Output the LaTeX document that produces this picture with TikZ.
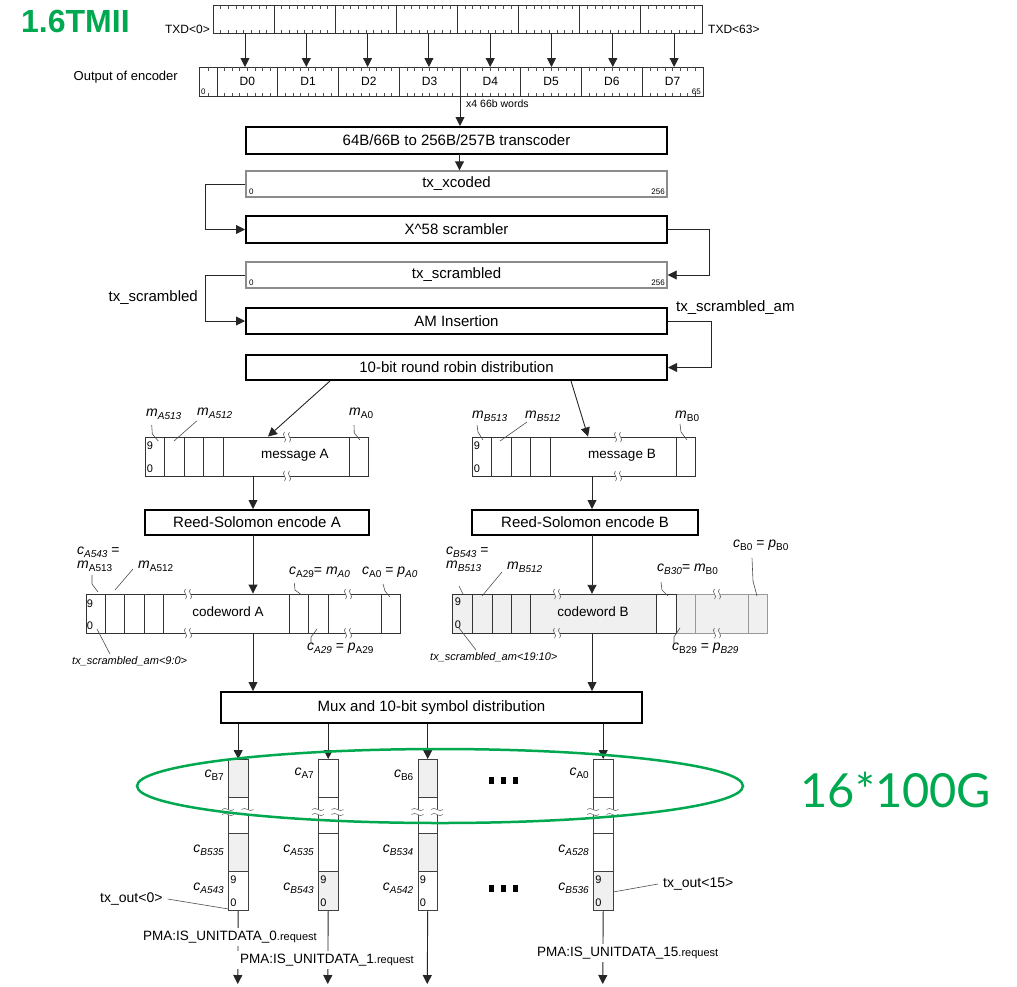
\documentclass[tikz,border=0pt]{standalone}
\usepackage{fontspec}
\setmainfont{Liberation Sans}
\newfontfamily\latofont{Lato}
\usetikzlibrary{arrows.meta,calc}
\definecolor{grn}{RGB}{0,168,80}
\colorlet{gfill}{black!6}
\newcommand{\symlab}[2]{\textit{#1}\raisebox{-0.45ex}{\fontsize{10}{10}\selectfont #2}}
\begin{document}
\begin{tikzpicture}[x=1pt,y=-1pt,
  xbox/.style={draw=black, line width=2pt, minimum width=421pt, inner sep=0pt, font=\fontsize{15}{15}\selectfont},
  xgr/.style={draw=black!45, line width=1.4pt, minimum width=421pt, minimum height=26pt, inner sep=0pt, font=\fontsize{15}{15}\selectfont},
  xbar/.style={draw=black!80, line width=1pt, inner sep=0pt},
  xdiv/.style={draw=black!80, line width=0.9pt},
  xlt/.style={draw=black!40, line width=0.9pt},
  xtk/.style={draw=black!70, line width=0.6pt},
  xconn/.style={draw=black!85, line width=0.9pt},
  xarr/.style={-{Triangle[length=9pt,width=9pt]}},
  xlead/.style={draw=black!70, line width=0.6pt},
  xlab/.style={inner sep=0pt, font=\fontsize{14}{12.5}\selectfont},
  xlab15/.style={inner sep=0pt, font=\fontsize{15}{15}\selectfont},
  xtxt/.style={inner sep=0pt, font=\fontsize{13.5}{14}\selectfont},
  xsm/.style={inner sep=0pt, font=\fontsize{12}{12}\selectfont},
  xsmb/.style={inner sep=0pt, font=\fontsize{13}{13}\selectfont},
  xnum/.style={inner sep=0pt, font=\fontsize{11}{11}\selectfont},
  xtiny/.style={inner sep=0pt, font=\fontsize{8}{8}\selectfont},
  xital/.style={inner sep=0pt, font=\itshape\fontsize{11}{11}\selectfont},
  xcell/.style={draw=black!75, line width=0.9pt, minimum width=19.5pt, inner sep=0pt, anchor=north west},
  xmsg/.style={draw=black!80, line width=0.9pt, inner sep=0pt},
  xpma/.style={fill=white, inner xsep=3pt, inner ysep=3pt, font=\fontsize{13.5}{13.5}\selectfont},
  hbrk/.pic={
    \fill[white] (-2.5,-1.3) rectangle (2.5,1.3);
    \draw[black!60, line width=0.6pt] (-2.5,-5) .. controls (-6.5,-2) and (1.5,2) .. (-2.5,5);
    \draw[black!60, line width=0.6pt] (2.5,-5) .. controls (-1.5,-2) and (6.5,2) .. (2.5,5);
  },
  vbrk/.pic={
    \fill[white] (-1.3,-2.5) rectangle (1.3,2.5);
    \draw[black!55, line width=0.6pt] (-6,-2.5) .. controls (-2,-6.5) and (2,1.5) .. (6,-2.5);
    \draw[black!55, line width=0.6pt] (-6,2.5) .. controls (-2,-1.5) and (2,6.5) .. (6,2.5);
  }]
\useasboundingbox (0,0) rectangle (1017,986);

% ---------- title
\node[anchor=west, inner sep=0pt, text=grn, font=\bfseries\fontsize{32}{32}\selectfont] (title) at (21,21) {1.6TMII};

% ---------- TXD bar
\node[xbar, minimum width=489pt, minimum height=28pt, anchor=north west] (txd) at (213,5) {};
\foreach \i in {1,...,7} \draw[xdiv] (213+61.125*\i,5) -- (213+61.125*\i,33);
\foreach \i in {0,...,7} \foreach \j in {1,...,7} {
  \draw[xtk] (213+61.125*\i+7.64*\j,5) -- ++(0,3.5);
  \draw[xtk] (213+61.125*\i+7.64*\j,33) -- ++(0,-3.5);
}
\node[xsm, anchor=east] (txd0) at (210,29) {TXD<0>};
\node[xsm, anchor=west] (txd63) at (708,29) {TXD<63>};

% ---------- encoder bar
\node[xbar, minimum width=504pt, minimum height=29pt, anchor=north west] (enc) at (199,67) {};
\foreach \i in {0,...,7} {
  \draw[xdiv] (217+60.75*\i,67) -- (217+60.75*\i,96);
  \foreach \j in {1,...,7} {
    \draw[xtk] (217+60.75*\i+7.59*\j,67) -- ++(0,3.5);
    \draw[xtk] (217+60.75*\i+7.59*\j,96) -- ++(0,-3.5);
  }
  \node[xsm] (d\i) at (217+60.75*\i+30.4,81.5) {D\i};
}
\draw[xtk] (208,67) -- ++(0,3.5);
\draw[xtk] (208,96) -- ++(0,-3.5);
\node[xtiny, anchor=south west] (e0) at (201,94.5) {0};
\node[xtiny, anchor=south east] (e65) at (701,94.5) {65};
\node[xsmb, anchor=east] (oenc) at (178,77) {Output of encoder};

\foreach \i in {0,...,7} {
  \coordinate (a\i) at (245+61.3*\i,33);
  \draw[xconn,xarr] (a\i) -- (a\i |- enc.north);
}

% ---------- processing chain
\node[xbox, minimum height=27pt] (tc) at (456.5,140.5) {64B/66B to 256B/257B transcoder};
\coordinate (e4) at (460,96);
\draw[xconn,xarr] (e4) -- (e4 |- tc.north);
\node[inner sep=0pt, font=\fontsize{10.5}{10.5}\selectfont, anchor=west] (x4) at (466,104) {x4 66b words};

\node[xgr] (xc) at (456.5,184) {tx\_xcoded};
\coordinate (tco) at (459.5,154);
\draw[xconn,xarr] (tco) -- (tco |- xc.north);
\node[xtiny, anchor=south west] (xc0) at (249,195) {0};
\node[xtiny, anchor=south east] (xc256) at (665,195) {256};

\node[xbox, minimum height=27pt] (scr) at (456.5,229.5) {X\textasciicircum58 scrambler};
\node[xgr] (ts) at (456.5,275) {tx\_scrambled};
\node[xtiny, anchor=south west] (ts0) at (249,286) {0};
\node[xtiny, anchor=south east] (ts256) at (665,286) {256};
\node[xbox, minimum height=26pt] (ami) at (456.5,321) {AM Insertion};
\node[xbox, minimum height=25pt] (rr) at (456.5,367.5) {10-bit round robin distribution};

\draw[xconn,xarr] (xc.west) -- ++(-40,0) |- (scr.west);
\draw[xconn,xarr] (scr.east) -- ++(41,0) |- (ts.east);
\draw[xconn,xarr] (ts.west) -- ++(-40,0) |- (ami.west);
\draw[xconn,xarr] (ami.east) -- ++(43,0) |- (rr.east);
\node[xlab15, anchor=east] (lts) at (198,298) {tx\_scrambled};
\node[xlab15, anchor=west] (ltsa) at (676,308) {tx\_scrambled\_am};

% ---------- message A
\node[xmsg, minimum width=223pt, minimum height=39pt] (ma) at (256.5,456.5) {};
\foreach \x in {164,184,203,223,349} \draw[xdiv] (\x,437) -- (\x,476);
\pic at (287,437) {hbrk};
\pic at (287,476) {hbrk};
\node[xtxt] (mat) at (295,455) {message A};
\node[xnum] (ma9) at (150,446) {9};
\node[xnum] (ma0) at (150,469) {0};
\node[xlab, anchor=west] (lma513) at (146,414) {\symlab{m}{\textit{A513}}};
\node[xlab, anchor=west] (lma512) at (197,413) {\symlab{m}{\textit{A512}}};
\node[xlab, anchor=west] (lma0) at (349,413) {\symlab{m}{A0}};
\draw[xlead] (151.7,425) -- (152.3,434) -- (158.3,441);
\draw[xlead] (196.7,421) -- (174,441);
\draw[xlead] (354,425) -- (354.3,433) -- (360,440);

% ---------- message B
\node[xmsg, minimum width=223pt, minimum height=39pt] (mb) at (583.5,456.5) {};
\foreach \x in {491,511,530,550,676} \draw[xdiv] (\x,437) -- (\x,476);
\pic at (618,437) {hbrk};
\pic at (618,476) {hbrk};
\node[xtxt] (mbt) at (622,455) {message B};
\node[xnum] (mb9) at (477,446) {9};
\node[xnum] (mb0) at (477,469) {0};
\node[xlab, anchor=west] (lmb513) at (472,416) {\symlab{m}{\textit{B513}}};
\node[xlab, anchor=west] (lmb512) at (525,416) {\symlab{m}{\textit{B512}}};
\node[xlab, anchor=west] (lmb0) at (675,416) {\symlab{m}{B0}};
\draw[xlead] (477,425) -- (478,432) -- (483,440);
\draw[xlead] (527,422) -- (500,441);
\draw[xlead] (680,424) -- (681,432) -- (687,440);

% round robin to messages
\draw[xconn,xarr] ([xshift=-126.5pt]rr.south) -- ([xshift=11.5pt]ma.north);
\draw[xconn,xarr] ([xshift=114.5pt]rr.south) -- ([xshift=4.5pt]mb.north);

% ---------- Reed-Solomon
\node[xbox, minimum width=224pt, minimum height=25pt] (rsa) at (257,522.5) {Reed-Solomon encode A};
\node[xbox, minimum width=226pt, minimum height=25pt] (rsb) at (585,522.5) {Reed-Solomon encode B};
\coordinate (mao) at (253,476);
\coordinate (mbo) at (592,476);
\draw[xconn,xarr] (mao) -- (mao |- rsa.north);
\draw[xconn,xarr] (mbo) -- (mbo |- rsb.north);

% ---------- codeword A
\node[xmsg, minimum width=314pt, minimum height=39pt] (cwa) at (243,613.5) {};
\foreach \x in {105,124,144,163,289,308,328,381} \draw[xdiv] (\x,594) -- (\x,633);
\pic at (188,594) {hbrk};
\pic at (188,633) {hbrk};
\pic at (348,594) {hbrk};
\pic at (348,633) {hbrk};
\node[xtxt] (cwat) at (228,612) {codeword A};
\node[xnum] (cwa9) at (90,604) {9};
\node[xnum] (cwa0) at (90,626) {0};
\node[xlab, anchor=west] (lca543) at (77,552) {\symlab{c}{\textit{A543}} =};
\node[xlab, anchor=west] (lma513b) at (77,566) {\symlab{m}{A513}};
\node[xlab, anchor=west] (lma512b) at (138,566) {\symlab{m}{A512}};
\node[xlab, anchor=west] (lca29) at (289,572) {\symlab{c}{A29}= \symlab{m}{\textit{A0}}};
\node[xlab, anchor=west] (lca0) at (362,572) {\symlab{c}{A0} = \symlab{p}{\textit{A0}}};
\node[xital, anchor=west] (ltsa9) at (72,661) {tx\_scrambled\_am<9:0>};
\node[xlab, anchor=west] (lca29p) at (307,648) {\symlab{c}{\textit{A29}} = \symlab{p}{A29}};
\draw[xlead] (92,575) -- (92,584) -- (98,592);
\draw[xlead] (133,569) -- (115,590);
\draw[xlead] (294.3,583) -- (295,590) -- (301.7,595);
\draw[xlead] (383,584) -- (385,591) -- (390,597);
\draw[xlead] (97,629) -- (110,654);
\draw[xlead] (311,644) -- (311,637) -- (317,629);

% ---------- codeword B
\node[fill=gfill, minimum width=315pt, minimum height=39pt, inner sep=0pt] (cwb) at (609.5,613.5) {};
\fill[white] (656,594) rectangle (676,633);
\draw[xlt] (676,594) -- (767,594) -- (767,633) -- (676,633);
\foreach \x in {695,748} \draw[xlt] (\x,594) -- (\x,633);
\draw[xdiv] (676,594) -- (452,594) -- (452,633) -- (676,633) -- cycle;
\foreach \x in {472,492,511,530,656} \draw[xdiv] (\x,594) -- (\x,633);
\pic at (557,594) {hbrk};
\pic at (557,633) {hbrk};
\pic at (717,594) {hbrk};
\pic at (717,633) {hbrk};
\node[xtxt] (cwbt) at (593,612) {codeword B};
\node[xnum] (cwb9) at (458,602) {9};
\node[xnum] (cwb0) at (458,625) {0};
\node[xlab, anchor=west] (lcb543) at (446,552) {\symlab{c}{\textit{B543}} =};
\node[xlab, anchor=west] (lmb513b) at (446,566) {\symlab{m}{\textit{B513}}};
\node[xlab, anchor=west] (lmb512b) at (507,567) {\symlab{m}{\textit{B512}}};
\node[xlab, anchor=west] (lcb30) at (657,569) {\symlab{c}{\textit{B30}}= \symlab{m}{B0}};
\node[xlab, anchor=west] (lcb0) at (733,545) {\symlab{c}{B0} = \symlab{p}{B0}};
\node[xital, anchor=west] (ltsa19) at (430,657) {tx\_scrambled\_am<19:10>};
\node[xlab, anchor=west] (lcb29) at (672,648) {\symlab{c}{B29} = \symlab{p}{\textit{B29}}};
\draw[xlead] (459,586) -- (463,594);
\draw[xlead] (502,572) -- (482,596);
\draw[xlead] (661,582) -- (662,590) -- (668,596);
\draw[xlead] (752,558) -- (753,581) -- (757,596);
\draw[xlead] (459,628) -- (476,650);
\draw[xlead] (674,644) -- (674,637) -- (680,628);

% ---------- Mux
\node[xbox, minimum height=31pt] (mux) at (431.5,707.5) {Mux and 10-bit symbol distribution};
\coordinate (rsao) at (253,535);
\coordinate (rsbo) at (592,535);
\draw[xconn,xarr] (rsao) -- (rsao |- cwa.north);
\draw[xconn,xarr] (rsbo) -- (rsbo |- cwb.north);
\coordinate (cwao) at (253,633);
\coordinate (cwbo) at (592,633);
\draw[xconn,xarr] (cwao) -- (cwao |- mux.north);
\draw[xconn,xarr] (cwbo) -- (cwbo |- mux.north);

% ---------- lanes
\foreach \k/\xl/\fa/\fc/\fd in {1/228/gfill/gfill/white, 2/318/white/white/gfill, 3/417.5/gfill/gfill/white, 4/593/white/white/gfill} {
  \node[xcell, fill=\fa, minimum height=38pt] (l\k-a) at (\xl,759) {};
  \node[xcell, fill=white, minimum height=36pt] (l\k-b) at (\xl,797) {};
  \node[xcell, fill=\fc, minimum height=38pt] (l\k-c) at (\xl,833) {};
  \node[xcell, fill=\fd, minimum height=39pt] (l\k-d) at (\xl,871) {};
  \pic at (\xl,812) {vbrk};
  \pic at (\xl+19.5,812) {vbrk};
  \node[xnum] (n9-\k) at (\xl+5.5,880) {9};
  \node[xnum] (n0-\k) at (\xl+5.5,903) {0};
  \draw[xconn,xarr] (l\k-a.north |- mux.south) -- (l\k-a.north);
  \coordinate (o\k) at (\xl+9.75,984);
  \draw[xconn,xarr] (l\k-d.south) -- (o\k);
}

% lane labels
\node[xlab, anchor=east] (c1a) at (224,775) {\symlab{c}{B7}};
\node[xlab, anchor=east] (c1c) at (224,850) {\symlab{c}{\textit{B535}}};
\node[xlab, anchor=east] (c1d) at (224,888) {\symlab{c}{\textit{A543}}};
\node[xlab, anchor=east] (c2a) at (314,773) {\symlab{c}{A7}};
\node[xlab, anchor=east] (c2c) at (314,850) {\symlab{c}{\textit{A535}}};
\node[xlab, anchor=east] (c2d) at (314,888) {\symlab{c}{\textit{B543}}};
\node[xlab, anchor=east] (c3a) at (413.5,775) {\symlab{c}{B6}};
\node[xlab, anchor=east] (c3c) at (413.5,850) {\symlab{c}{\textit{B534}}};
\node[xlab, anchor=east] (c3d) at (413.5,888) {\symlab{c}{\textit{A542}}};
\node[xlab, anchor=east] (c4a) at (589,773) {\symlab{c}{A0}};
\node[xlab, anchor=east] (c4c) at (589,850) {\symlab{c}{\textit{A528}}};
\node[xlab, anchor=east] (c4d) at (589,888) {\symlab{c}{\textit{B536}}};

% dots
\foreach \y in {780,888} \foreach \x in {489,501,513} \fill (\x,\y-3.5) rectangle ++(5,7);

% tx_out labels
\node[inner sep=0pt, font=\fontsize{14}{14}\selectfont, anchor=west] (txo0) at (100,899) {tx\_out<0>};
\draw[xlead] ([xshift=5pt]txo0.east) -- ([yshift=2pt]l1-d.south west);
\node[inner sep=0pt, font=\fontsize{14}{14}\selectfont, anchor=west] (txo15) at (663,884) {tx\_out<15>};
\draw[xlead] ([xshift=-5pt]txo15.west) -- ([yshift=-1pt]l4-d.east);

% PMA labels
\node[xpma, anchor=west] (p0) at (140,937) {PMA:IS\_UNITDATA\_0{\fontsize{11}{11}\selectfont .request}};
\node[xpma, anchor=west] (p1) at (237,960) {PMA:IS\_UNITDATA\_1{\fontsize{11}{11}\selectfont .request}};
\node[xpma, anchor=west] (p15) at (534,953) {PMA:IS\_UNITDATA\_15{\fontsize{11}{11}\selectfont .request}};

% ---------- green ellipse & label
\draw[grn, line width=2.5pt] (440,786) ellipse [x radius=303pt, y radius=37pt];
\node[inner sep=0pt, text=grn, font=\latofont\fontsize{47}{47}\selectfont] (g16) at (896,790) {16*100G};
\end{tikzpicture}
\end{document}
